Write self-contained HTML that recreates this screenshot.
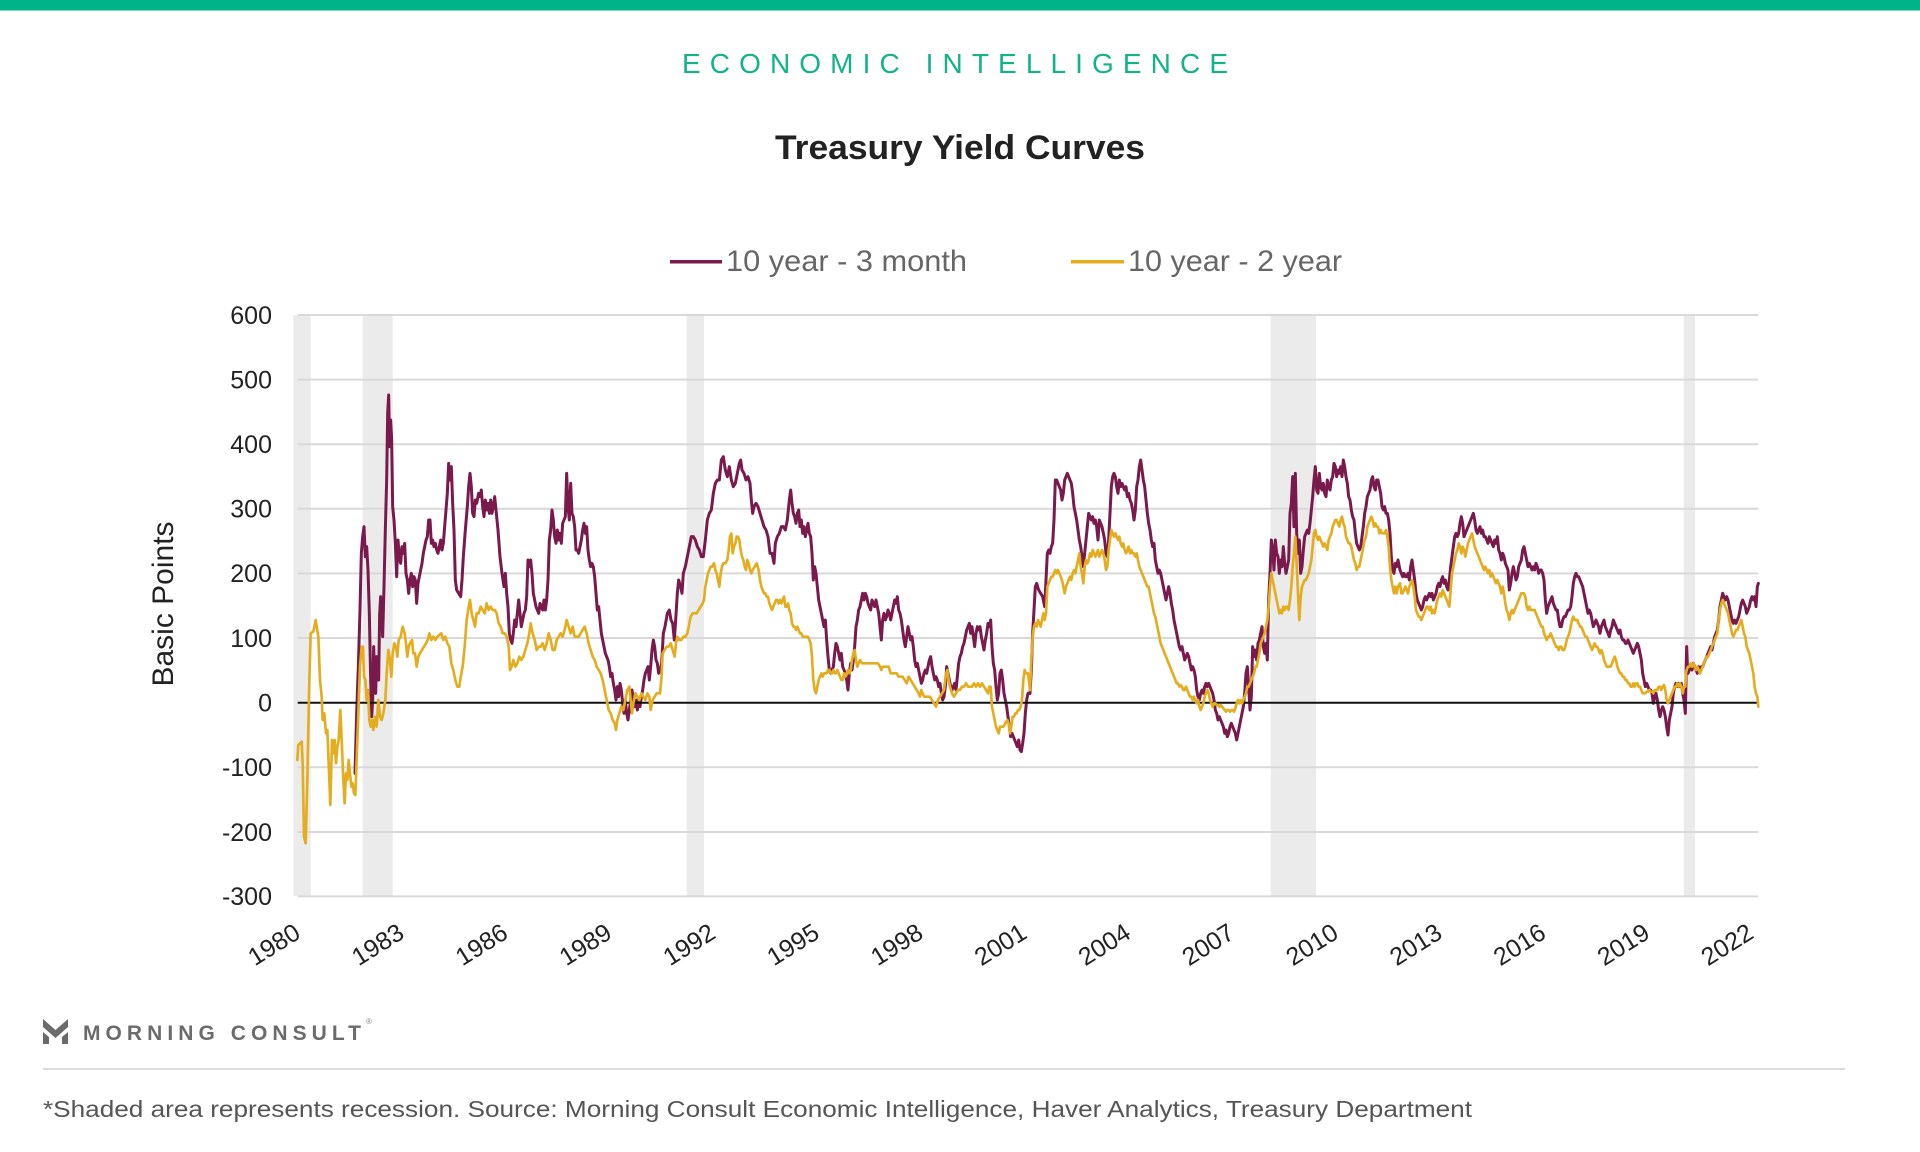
<!DOCTYPE html>
<html>
<head>
<meta charset="utf-8">
<style>
html,body{margin:0;padding:0;background:#fff;}
body{width:1920px;height:1152px;overflow:hidden;}
svg{display:block;}
text{font-family:"Liberation Sans",sans-serif;}
</style>
</head>
<body>
<svg width="1920" height="1152" viewBox="0 0 1920 1152" xmlns="http://www.w3.org/2000/svg">
<rect x="0" y="0" width="1920" height="1152" fill="#fff"/>
<rect x="0" y="0" width="1920" height="10" fill="#00b388"/>
<rect x="0" y="10" width="1920" height="1" fill="#7fd9c3"/>

<text x="682" y="73" font-size="28" fill="#12b389" textLength="546" lengthAdjust="spacing">ECONOMIC INTELLIGENCE</text>
<text x="775" y="159" font-size="34" font-weight="bold" fill="#222" textLength="370" lengthAdjust="spacingAndGlyphs">Treasury Yield Curves</text>

<!-- legend -->
<rect x="670" y="260" width="52" height="3.5" fill="#7a1a4c"/>
<text x="726" y="271" font-size="30" fill="#666" textLength="241" lengthAdjust="spacingAndGlyphs">10 year - 3 month</text>
<rect x="1071" y="260" width="53" height="3.5" fill="#e4ad1f"/>
<text x="1128" y="271" font-size="30" fill="#666" textLength="214" lengthAdjust="spacingAndGlyphs">10 year - 2 year</text>

<!-- recession bands -->
<g fill="#ebebeb">
<rect x="293.3" y="315" width="17.4" height="581"/>
<rect x="362.7" y="315" width="30" height="581"/>
<rect x="686.7" y="315" width="17.3" height="581"/>
<rect x="1270.7" y="315" width="45.3" height="581"/>
<rect x="1683.7" y="315" width="11.3" height="581"/>
</g>

<!-- grid -->
<g stroke="#d9d9d9" stroke-width="2">
<line x1="297.7" y1="315" x2="1758.3" y2="315"/>
<line x1="297.7" y1="379.6" x2="1758.3" y2="379.6"/>
<line x1="297.7" y1="444.2" x2="1758.3" y2="444.2"/>
<line x1="297.7" y1="508.8" x2="1758.3" y2="508.8"/>
<line x1="297.7" y1="573.4" x2="1758.3" y2="573.4"/>
<line x1="297.7" y1="638" x2="1758.3" y2="638"/>
<line x1="297.7" y1="767.3" x2="1758.3" y2="767.3"/>
<line x1="297.7" y1="832" x2="1758.3" y2="832"/>
<line x1="297.7" y1="896.4" x2="1758.3" y2="896.4"/>
</g>

<!-- y labels -->
<g font-size="25" fill="#222" text-anchor="end">
<text x="272" y="324">600</text>
<text x="272" y="388.5">500</text>
<text x="272" y="453">400</text>
<text x="272" y="517.5">300</text>
<text x="272" y="582">200</text>
<text x="272" y="647">100</text>
<text x="272" y="711.5">0</text>
<text x="272" y="776">-100</text>
<text x="272" y="841">-200</text>
<text x="272" y="905">-300</text>
</g>

<text transform="translate(173,604) rotate(-90)" font-size="30" fill="#222" text-anchor="middle">Basic Points</text>

<!-- x labels -->
<g font-size="25" fill="#222" text-anchor="end">
<text transform="translate(302,937) rotate(-32)">1980</text>
<text transform="translate(405.8,937) rotate(-32)">1983</text>
<text transform="translate(509.6,937) rotate(-32)">1986</text>
<text transform="translate(613.4,937) rotate(-32)">1989</text>
<text transform="translate(717.2,937) rotate(-32)">1992</text>
<text transform="translate(821,937) rotate(-32)">1995</text>
<text transform="translate(924.8,937) rotate(-32)">1998</text>
<text transform="translate(1028.6,937) rotate(-32)">2001</text>
<text transform="translate(1132.4,937) rotate(-32)">2004</text>
<text transform="translate(1236.2,937) rotate(-32)">2007</text>
<text transform="translate(1340,937) rotate(-32)">2010</text>
<text transform="translate(1443.8,937) rotate(-32)">2013</text>
<text transform="translate(1547.6,937) rotate(-32)">2016</text>
<text transform="translate(1651.4,937) rotate(-32)">2019</text>
<text transform="translate(1755.2,937) rotate(-32)">2022</text>
</g>

<!-- series: purple (10y-3m) -->
<g fill="none" stroke="#7a1a4c" stroke-width="9" stroke-linejoin="round" stroke-linecap="round">
<polyline transform="translate(290,380) scale(0.33333)" points="195,1180 200,1000 205,860 210,690 214,520 218,470 222,440 226,530 230,500 234,570 238,700 242,900 245,1010 248,960 251,800 254,900 257,940 260,830 263,850 266,900 269,700 272,650 275,700 278,770 282,620 286,450 290,300 293,100 296,45 299,200 302,120 305,180 308,380 312,420 316,490 320,590 324,480 328,530 332,550 336,500 340,520 344,490 348,580 352,600 356,640 360,600 364,580 368,620 372,590 376,600 380,670 384,610 388,590 392,570 396,550 400,520 404,500 408,480 412,470 416,420 420,420 424,490 428,480 432,500 436,490 440,510 444,520 448,500 452,480 456,510 460,490 464,440 468,390 472,340 476,250 480,300 484,260 488,370 492,450 496,600 500,630 506,640 512,650 516,600 520,530 526,450 532,380 536,320 540,280 544,320 548,400 552,410 556,360 560,370 566,340 570,350 574,330 578,380 582,410 586,360 590,390 594,370 598,400 602,360 606,400 610,380 614,350 618,390 624,450 630,530 636,580 642,620 646,580 650,640 654,680 658,760 662,780 666,790 670,760 674,720 678,740 682,700 686,660 690,700 694,740 698,720 702,700 706,690 710,650 714,540 718,560 722,540 726,580 730,640 734,660 738,680 742,690 746,700 750,670 754,680 758,690 762,660 766,690 770,660 774,600 778,480 782,450 786,390 790,420 794,470 798,490 802,450 806,480 810,460 814,490 818,430 822,420 826,410 830,280 834,380 838,420 842,310 846,400 850,410 854,440 858,510 862,510 866,520 870,500 874,480 878,450 882,430 886,460 890,440 894,510 898,540 902,560 906,550 910,560 914,590 918,640 922,690 926,680 930,720 934,760 938,780 942,800 946,820 950,830 954,840 958,860 962,890 966,880 970,910 974,930 978,960 982,920 986,950 990,910 994,930 998,970 1002,1000 1006,960 1010,1000 1014,1020 1018,990 1022,960 1026,930 1030,960 1034,980 1038,960 1042,990 1046,960 1050,980 1054,950 1058,930 1062,900 1066,880 1070,870 1074,860 1078,900 1082,860 1086,810 1090,780 1094,800 1098,840 1102,850 1106,880 1110,870"/>
<polyline transform="translate(660,380) scale(0.33333)" points="0,870 5,850 10,760 15,740 22,700 28,690 33,720 38,730 43,780 47,720 52,640 56,600 62,620 66,640 70,580 76,560 82,530 88,500 94,470 100,470 106,480 112,500 118,510 124,530 130,530 136,480 142,420 148,400 154,390 160,340 166,310 172,300 178,300 184,240 190,230 196,270 202,290 208,260 214,300 220,320 226,310 232,280 238,250 242,240 246,270 252,280 258,300 264,290 270,310 274,360 278,400 282,380 288,370 294,380 300,400 306,420 312,440 318,450 324,470 330,520 336,520 342,550 346,490 352,470 358,460 364,440 370,440 376,450 382,420 388,360 392,330 396,370 400,400 404,410 408,430 412,400 416,390 420,440 424,420 428,460 432,440 436,470 440,450 444,430 448,460 452,470 456,520 460,600 464,560 468,580 472,620 476,660 480,680 484,700 488,720 492,740 496,720 500,780 504,830 508,870 512,880 516,870 520,860 524,820 528,790 532,800 536,820 540,840 544,820 548,860 552,870 556,880 560,900 564,930 568,880 572,850 576,870 580,840 584,800 588,740 592,720 596,690 600,680 604,660 608,640 612,660 616,640 620,650 624,670 628,680 632,690 636,660 640,670 644,680 648,660 652,680 656,700 660,740 664,780 668,720 672,700 676,720 680,710 684,690 688,700 692,720 696,700 700,680 704,660 708,670 712,650 716,690 720,700 724,720 728,750 732,780 736,800 740,770 744,740 748,760 752,780 756,770 760,800 764,840 768,860 772,850 776,870 780,890 784,910 788,900 792,880 796,870 800,880 804,860 808,840 812,830 816,860 820,880 824,900 828,890 832,900 836,920 840,910 844,940 848,960 852,950 856,920 860,860 864,880 868,900 872,920 876,930 880,920 884,910 888,930 892,890 896,850 900,830 904,820 908,800 912,790 916,770 920,750 924,740 928,730 932,760 936,740 940,770 944,800 948,760 952,740 956,750 960,740 964,770 968,790 972,810 976,780 980,760 984,730 988,740 992,720 996,800 1000,850 1004,870 1008,920 1012,960 1016,940 1020,880 1024,870 1028,900 1032,940 1036,960 1040,980 1044,1010 1048,1040 1052,1070 1056,1060 1060,1070 1064,1080 1068,1090 1072,1100 1076,1080 1080,1110 1084,1115 1088,1090 1092,1060 1096,1000 1100,960 1104,940 1110,940"/>
<polyline transform="translate(1030,380) scale(0.33333)" points="0,940 4,870 8,760 12,690 16,620 20,610 26,630 32,640 38,650 44,680 48,600 52,520 56,510 60,520 64,500 68,490 72,420 76,300 80,300 84,310 88,320 92,330 96,360 100,340 104,300 108,290 112,280 116,290 120,300 124,310 128,340 132,380 136,400 140,420 144,450 148,480 152,500 156,530 160,560 164,520 168,480 172,440 176,400 180,410 184,420 188,410 192,430 196,420 200,440 204,480 208,420 212,430 216,440 220,460 224,480 228,520 232,530 236,480 240,400 244,320 248,290 252,280 256,290 260,320 264,340 268,300 272,320 276,310 280,320 284,330 288,320 292,350 296,340 300,360 304,370 308,390 312,420 316,390 320,320 324,300 328,260 332,240 336,270 340,300 344,320 348,360 352,400 356,430 360,450 364,480 368,500 372,490 376,540 380,560 384,580 388,570 392,580 396,600 400,620 404,640 408,660 412,640 416,620 420,640 424,670 428,690 432,720 436,740 440,760 444,780 448,800 452,810 456,800 460,820 464,840 468,830 472,820 476,830 480,850 484,870 488,860 492,870 496,890 500,930 504,950 508,960 512,940 516,930 520,940 524,920 528,910 532,920 536,910 540,920 544,930 548,940 552,960 556,990 560,1000 564,1020 568,1010 572,1020 576,1030 580,1040 584,1060 588,1050 592,1070 596,1060 600,1040 604,1030 608,1040 612,1050 616,1060 620,1080 624,1060 628,1040 632,1020 636,1000 640,980 644,940 648,880 652,860 656,920 660,990 664,950 668,800 672,830 676,810 680,840 684,790 688,780 692,760 696,740 700,800 704,820 708,790 712,840 716,660 720,580 724,480 728,510 732,570 736,480 740,520 744,530 748,580 752,540 756,560 760,500 764,550 768,580 772,560 776,540 780,400 784,370 788,290 792,440 796,280 800,460 804,520 808,480 812,580 816,560 820,510 824,470 828,460 832,450 836,460 840,430 844,390 848,350 852,300 856,260 860,330 864,340 868,280 872,320 876,330 880,310 884,340 888,350 892,300 896,320 900,330 904,300 908,290 912,250 916,260 920,290 924,270 928,280 932,260 936,290 940,240 944,260 948,290 952,310 956,350 960,360 964,390 968,410 972,420 976,460 980,490 984,500 988,510 992,500 996,470 1000,440 1004,400 1008,380 1012,350 1016,340 1020,330 1024,300 1028,290 1032,320 1036,330 1040,300 1044,300 1048,320 1052,340 1056,380 1060,390 1064,380 1068,400 1072,400 1076,420 1080,460 1084,530 1088,570 1092,580 1096,550 1100,560 1104,540 1110,570"/>
<polyline transform="translate(1400,380) scale(0.33333)" points="0,570 4,580 8,590 12,580 16,590 20,590 24,580 28,600 32,560 36,540 40,570 44,600 48,640 52,660 56,670 60,680 64,690 68,680 72,660 76,650 80,660 84,650 88,640 92,650 96,640 100,660 104,650 108,640 112,620 116,610 120,620 124,600 128,590 132,610 136,600 140,620 144,630 148,600 152,560 156,530 160,500 164,470 168,460 172,470 176,460 180,430 184,410 188,430 192,470 196,460 200,450 204,440 208,430 212,420 216,410 220,400 224,420 228,450 232,460 236,450 240,440 244,460 248,450 252,470 256,470 260,480 264,490 268,470 272,480 276,490 280,500 284,480 288,490 292,470 296,510 300,520 304,540 308,520 312,530 316,550 320,560 324,570 328,630 332,610 336,580 340,560 344,580 348,600 352,590 356,560 360,550 364,540 368,510 372,500 376,520 380,540 384,560 388,550 392,560 396,570 400,560 404,570 408,550 412,560 416,580 420,570 424,570 428,580 432,600 436,660 440,700 444,680 448,670 452,660 456,650 460,670 464,680 468,690 472,690 476,720 480,740 484,740 488,720 492,710 496,710 500,700 504,690 508,690 512,680 516,650 520,610 524,590 528,580 532,590 536,590 540,600 544,610 548,620 552,640 556,660 560,680 564,700 568,690 572,700 576,720 580,740 584,730 588,720 592,730 596,740 600,760 604,740 608,730 612,720 616,740 620,750 624,760 628,770 632,750 636,740 640,720 644,730 648,740 652,750 656,760 660,750 664,770 668,780 672,780 676,790 680,790 684,780 688,790 692,800 696,810 700,820 704,810 708,800 712,790 716,800 720,820 724,840 728,880 732,900 736,920 740,910 744,920 748,930 752,930 756,940 760,970 764,950 768,940 772,960 776,990 780,1010 784,990 788,980 792,990 796,1010 800,1040 804,1065 808,1020 812,1000 816,980 820,940 824,920 828,910 832,920 836,910 840,920 844,910 848,940 852,960 856,1000 858,900 860,800 862,850 864,880 868,870 872,860 876,870 880,850 884,860 888,870 892,880 896,860 900,870 904,860 908,860 912,850 916,840 920,830 924,820 928,810 932,800 936,810 940,790 944,770 948,760 952,750 956,720 960,680 964,660 968,640 972,650 976,660 980,650 984,660 988,680 992,700 996,720 1000,730 1004,720 1008,730 1012,720 1016,710 1020,690 1024,670 1028,660 1032,670 1036,680 1040,700 1044,690 1048,680 1052,660 1056,650 1060,660 1064,650 1068,680 1072,620 1075,610"/>
</g>

<!-- zero line -->
<line x1="297.7" y1="702.7" x2="1758.3" y2="702.7" stroke="#111" stroke-width="2"/>

<!-- series: yellow (10y-2y) -->
<g fill="none" stroke="#e4ad1f" stroke-width="8" stroke-linejoin="round" stroke-linecap="round">
<polyline transform="translate(290,380) scale(0.33333)" points="22,1140 25,1095 35,1085 38,1150 42,1370 47,1390 52,1200 58,900 62,760 70,755 77,720 85,770 90,900 95,950 98,1020 103,1000 108,1060 112,1050 116,1150 121,1275 126,1080 131,1120 134,1080 138,1150 142,1100 146,1080 151,990 155,1080 160,1200 164,1270 168,1180 172,1200 176,1140 180,1180 184,1220 188,1210 192,1240 196,1245 200,1140 205,1000 210,860 215,800 219,800 222,890 226,900 230,960 234,930 238,1020 242,1040 246,1020 250,1050 255,1010 260,1040 265,960 270,1010 275,1020 280,1000 286,960 290,880 295,810 300,840 304,890 308,820 313,790 318,800 322,830 326,780 332,770 338,740 344,760 348,790 352,830 356,800 360,790 366,780 370,820 375,820 380,860 385,830 390,820 396,810 402,800 408,790 413,780 418,760 424,780 430,770 436,780 442,770 448,765 454,760 460,780 466,770 472,790 478,800 484,850 490,870 496,900 502,920 508,920 514,880 518,860 524,800 530,720 536,680 540,660 545,700 550,720 555,740 560,700 566,700 572,680 578,690 584,700 590,670 596,690 602,680 608,690 614,690 620,700 626,730 632,740 638,760 644,760 650,770 656,800 660,870 665,860 670,840 676,860 682,850 688,830 694,840 700,830 706,810 712,790 718,760 722,730 728,760 734,780 740,810 746,800 752,800 758,790 764,810 770,790 776,760 782,780 788,810 794,810 800,780 806,770 812,760 818,770 824,750 830,720 836,740 842,760 848,740 854,770 860,770 866,770 872,760 878,750 884,740 890,760 896,790 902,810 908,830 914,840 920,860 926,870 932,880 938,900 944,930 950,960 956,990 962,1000 968,1020 974,1030 978,1050 982,1020 988,1000 994,980 1000,990 1006,960 1012,930 1018,920 1022,960 1026,1000 1030,970 1036,940 1042,950 1048,960 1054,940 1060,950 1066,960 1072,940 1078,950 1082,990 1088,960 1094,950 1100,940 1110,940"/>
<polyline transform="translate(660,380) scale(0.33333)" points="0,940 4,900 8,820 14,810 20,800 26,800 32,790 38,810 44,830 48,790 52,770 58,780 64,780 70,770 76,770 82,760 88,730 92,710 98,700 104,700 110,700 116,690 122,680 128,670 132,660 136,620 140,600 144,580 148,570 152,560 156,560 162,550 166,570 170,580 174,600 178,620 182,580 186,560 190,550 196,550 202,540 206,510 210,470 214,460 218,520 222,500 226,490 230,470 234,470 238,480 242,510 246,530 250,540 254,560 258,570 262,540 266,550 270,570 274,580 278,570 284,560 290,550 296,570 300,600 304,620 308,630 312,640 316,640 320,650 324,650 328,670 332,680 336,690 340,680 344,670 348,660 352,660 356,670 360,660 364,670 368,660 372,650 376,680 380,680 384,670 388,690 392,700 396,730 400,740 404,740 408,750 412,740 416,750 420,760 424,760 428,770 432,770 436,770 440,770 444,770 448,780 452,790 456,830 460,900 464,930 468,940 472,920 476,900 480,890 484,880 488,890 492,880 496,880 500,880 504,870 508,870 512,880 516,880 520,870 524,880 528,880 532,870 536,880 540,890 544,900 548,900 552,880 556,890 560,880 564,870 568,880 572,870 576,840 580,820 584,810 588,840 592,860 596,850 600,840 606,850 612,850 618,850 624,850 630,850 636,850 642,850 648,850 654,850 660,860 664,870 668,860 674,860 680,860 686,860 692,880 698,880 704,880 710,880 716,890 722,890 728,890 734,900 740,910 746,890 752,900 758,910 764,920 770,930 776,940 780,950 784,930 788,940 792,950 798,950 804,950 810,950 816,960 822,970 828,980 834,960 840,950 846,940 852,930 858,880 862,870 866,900 870,920 876,940 882,950 888,940 894,930 900,930 906,920 912,920 918,910 924,920 930,920 936,920 942,910 948,920 954,910 960,920 966,910 972,920 978,930 984,940 988,920 992,920 996,980 1000,1000 1004,1020 1008,1040 1012,1050 1016,1060 1020,1040 1024,1040 1030,1040 1036,1030 1042,1020 1046,1030 1050,1060 1054,1040 1058,1010 1062,1010 1066,1000 1070,1000 1074,990 1078,990 1082,980 1086,960 1090,900 1094,870 1098,880 1104,880 1110,930"/>
<polyline transform="translate(1030,380) scale(0.33333)" points="0,930 4,840 8,770 12,740 16,730 20,740 24,720 28,730 32,740 36,720 40,700 44,720 48,700 52,620 56,610 60,600 64,590 68,590 72,580 76,570 80,580 84,570 88,580 92,590 96,600 100,620 104,640 108,620 112,610 116,600 120,590 124,600 128,580 132,570 136,580 140,560 144,540 148,520 152,560 156,580 160,610 164,560 168,540 172,550 176,540 180,520 184,530 188,510 192,520 196,530 200,520 204,510 208,530 212,520 216,510 220,520 224,540 228,570 232,560 236,510 240,480 244,450 248,460 252,470 256,460 260,470 264,480 268,470 272,490 276,500 280,490 284,510 288,520 292,510 296,500 300,520 304,510 308,520 312,520 316,530 320,520 324,540 328,560 332,570 336,580 340,590 344,600 348,610 352,620 356,620 360,640 364,660 368,680 372,700 376,710 380,730 384,750 388,770 392,790 396,800 400,810 404,820 408,830 412,840 416,850 420,860 424,870 428,880 432,890 436,900 440,910 444,910 448,920 452,915 456,920 460,930 464,930 468,920 472,930 476,940 480,950 484,950 488,960 492,950 496,960 500,970 504,960 508,980 512,990 516,980 520,970 524,950 528,940 532,930 536,940 540,960 544,970 548,980 552,970 556,970 560,975 564,975 568,980 572,975 576,980 580,985 584,990 588,995 592,990 596,990 600,995 604,990 608,990 612,995 616,985 620,970 624,960 628,970 632,960 636,970 640,960 644,950 648,940 652,920 656,920 660,910 664,900 668,890 672,880 676,860 680,860 684,840 688,820 692,790 696,780 700,770 704,760 708,740 712,720 716,680 720,620 724,580 728,600 732,620 736,640 740,660 744,680 748,700 752,690 756,700 760,680 764,690 768,680 772,680 776,690 780,660 784,620 788,560 792,520 796,470 800,550 804,640 808,720 812,650 816,620 820,610 824,600 828,600 832,590 836,580 840,560 844,540 848,500 852,460 856,450 860,470 864,480 868,470 872,480 876,490 880,500 884,490 888,500 892,510 896,480 900,470 904,460 908,440 912,430 916,420 920,420 924,430 928,440 932,420 936,410 940,430 944,440 948,470 952,480 956,490 960,490 964,500 968,520 972,540 976,550 980,570 984,560 988,560 992,540 996,520 1000,500 1004,480 1008,470 1012,440 1016,430 1020,420 1024,410 1028,420 1032,440 1036,430 1040,440 1044,440 1048,460 1052,450 1056,460 1060,460 1064,460 1068,450 1072,470 1076,500 1080,560 1084,600 1088,620 1092,640 1096,620 1100,640 1104,620 1110,610"/>
<polyline transform="translate(1400,380) scale(0.33333)" points="0,610 4,640 8,640 12,630 16,620 20,630 24,640 28,620 32,610 36,600 40,620 44,650 48,690 52,700 56,710 60,710 64,720 68,710 72,700 76,690 80,680 84,680 88,690 92,680 96,700 100,690 104,700 108,680 112,660 116,650 120,640 124,650 128,630 132,640 136,650 140,660 144,670 148,680 152,630 156,580 160,560 164,540 168,520 172,510 176,490 180,500 184,520 188,500 192,510 196,530 200,510 204,490 208,480 212,470 216,460 220,480 224,500 228,510 232,520 236,530 240,540 244,550 248,560 252,570 256,560 260,570 264,580 268,570 272,590 276,580 280,590 284,600 288,610 292,600 296,610 300,620 304,640 308,620 312,640 316,670 320,690 324,700 328,720 332,700 336,690 340,700 344,690 348,680 352,670 356,660 360,650 364,640 368,640 372,640 376,650 380,680 384,690 388,680 392,690 396,690 400,690 404,690 408,700 412,710 416,720 420,730 424,740 428,740 432,760 436,770 440,780 444,770 448,770 452,760 456,770 460,780 464,790 468,800 472,800 476,810 480,800 484,800 488,810 492,810 496,800 500,780 504,770 508,760 512,740 516,720 520,710 524,720 528,720 532,720 536,730 540,740 544,740 548,750 552,760 556,770 560,770 564,780 568,790 572,800 576,810 580,800 584,790 588,800 592,800 596,810 600,820 604,810 608,820 612,840 616,850 620,860 624,860 628,860 632,860 636,850 640,840 644,830 648,840 652,860 656,870 660,880 664,880 668,890 672,890 676,900 680,900 684,910 688,910 692,920 696,920 700,910 704,920 708,910 712,910 716,920 720,920 724,930 728,940 732,940 736,940 740,935 744,935 748,930 752,935 756,935 760,940 764,930 768,930 772,930 776,920 780,920 784,930 788,920 792,915 796,930 800,960 804,970 808,960 812,950 816,940 820,930 824,920 828,920 832,910 836,920 840,910 844,920 848,940 852,920 856,920 858,880 860,870 864,860 868,860 872,850 876,860 880,850 884,860 888,870 892,860 896,870 900,880 904,870 908,860 912,850 916,840 920,830 924,830 928,820 932,810 936,800 940,790 944,780 948,770 952,760 956,720 960,690 964,670 968,660 972,670 976,680 980,690 984,700 988,720 992,740 996,760 1000,770 1004,760 1008,750 1012,750 1016,740 1020,730 1024,720 1028,740 1032,760 1036,770 1040,800 1044,810 1048,820 1052,840 1056,860 1060,880 1064,920 1068,940 1072,950 1075,980"/>
</g>

<!-- footer logo -->
<g fill="#6b6b6b">
<polygon points="43,1019 55.5,1030 68,1019 68,1027 55.5,1038 43,1027"/>
<polygon points="43,1032 49,1037 49,1044 43,1044"/>
<polygon points="68,1032 62,1037 62,1044 68,1044"/>
</g>
<text x="83" y="1040" font-size="21" font-weight="bold" fill="#6b6b6b" textLength="278" lengthAdjust="spacing">MORNING CONSULT</text>
<text x="366" y="1024" font-size="8" fill="#888">®</text>

<line x1="43" y1="1069" x2="1845" y2="1069" stroke="#dcdcdc" stroke-width="2"/>

<text x="43" y="1117" font-size="23" fill="#555" textLength="1429" lengthAdjust="spacingAndGlyphs">*Shaded area represents recession. Source: Morning Consult Economic Intelligence, Haver Analytics, Treasury Department</text>
</svg>
</body>
</html>
